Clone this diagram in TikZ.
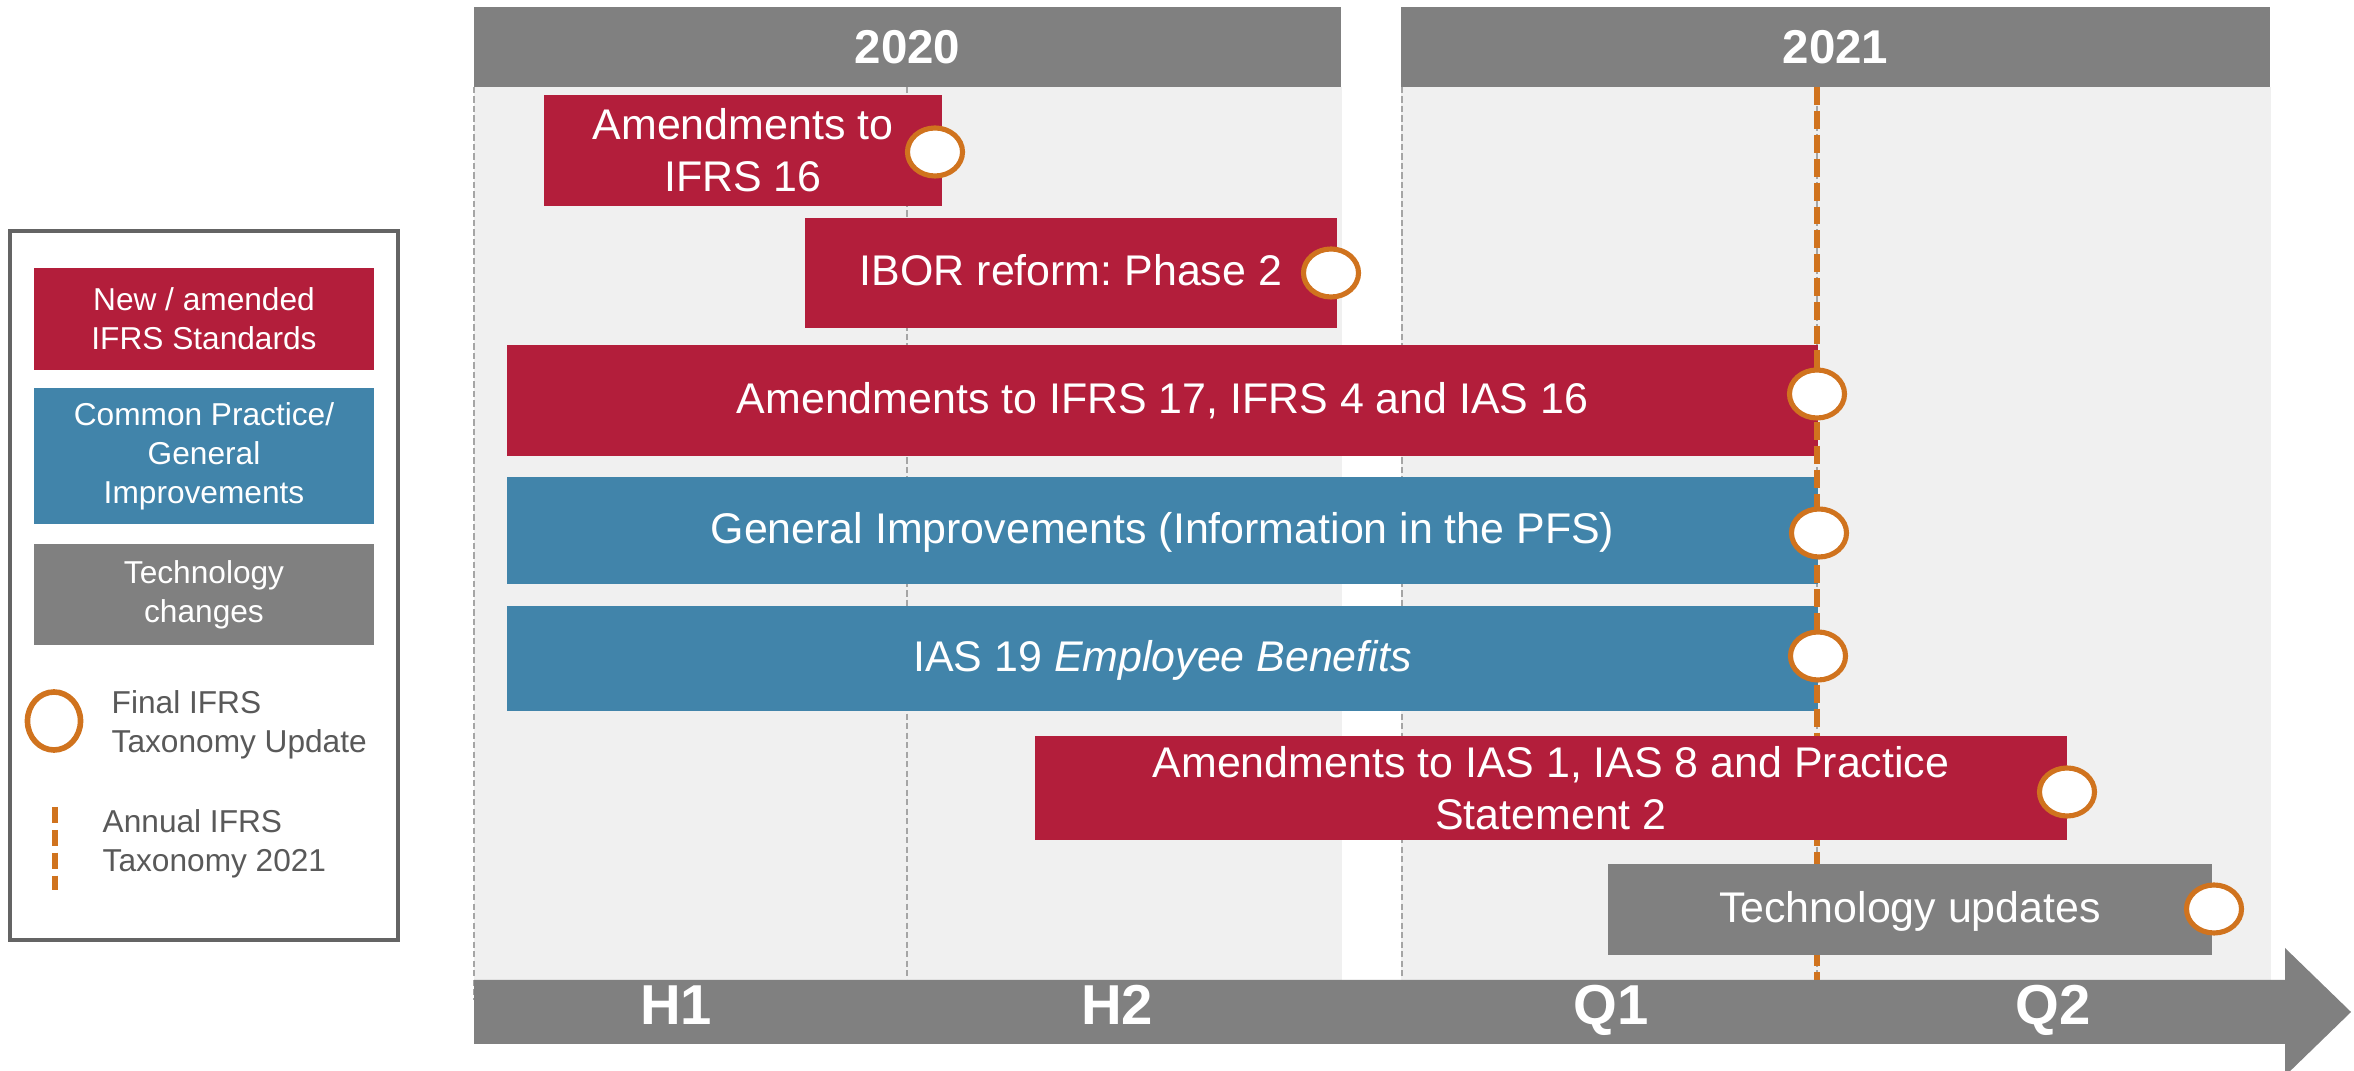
\documentclass[tikz,border=0pt]{standalone}
\usepackage{fontspec}
\setmainfont{Liberation Sans}
\usetikzlibrary{shapes.geometric}
\frenchspacing

\definecolor{stdred}{RGB}{179,30,59}
\definecolor{practiceblue}{RGB}{65,132,170}
\definecolor{techgray}{RGB}{128,128,128}
\definecolor{panelbg}{RGB}{240,240,240}
\definecolor{taxorange}{RGB}{208,115,30}
\definecolor{divgray}{RGB}{165,165,165}
\definecolor{frameclr}{RGB}{100,100,100}
\definecolor{legtext}{RGB}{89,89,89}

\begin{document}
\begin{tikzpicture}[x=0.01cm,y=-0.01cm,
  bar/.style={inner sep=0pt, text=white, align=center,
    font=\fontsize{12.2}{14.8}\selectfont},
  oneline/.style={text height=0.716em, text depth=0pt},
  ring/.style={ellipse, draw=taxorange, fill=white, line width=1.45pt,
    minimum width=0.55cm, minimum height=0.48cm, inner sep=0pt},
  yearhead/.style={fill=techgray, text=white, inner sep=0pt,
    minimum height=0.80cm, font=\fontsize{13.5}{16}\selectfont\bfseries},
  axislabel/.style={text=white, inner sep=0pt, text height=0.716em, text depth=0pt,
    font=\fontsize{16}{19}\selectfont\bfseries},
  divider/.style={draw=divgray, line width=0.45pt, dash pattern=on 1.8pt off 0.9pt},
  taxline/.style={draw=taxorange, line width=1.45pt, dash pattern=on 5.1pt off 1.7pt},
  legkey/.style={inner sep=0pt, text=white, align=center,
    minimum width=3.40cm, font=\fontsize{9}{11.1}\selectfont},
  legnote/.style={inner sep=0pt, text=legtext, align=left, anchor=west,
    font=\fontsize{9}{11}\selectfont}
]
\useasboundingbox (0,0) rectangle (2354,1071);
\clip (0,0) rectangle (2354,1071);

% background panels for the two years
\fill[panelbg] (474,87) rectangle (1342,980);
\fill[panelbg] (1401,87) rectangle (2271,980);

% period dividers
\coordinate (d1a) at (474,87);  \coordinate (d1b) at (474,1000);
\coordinate (d2a) at (907,87);  \coordinate (d2b) at (907,980);
\coordinate (d3a) at (1402,87); \coordinate (d3b) at (1402,980);
\coordinate (d4a) at (1817,87); \coordinate (d4b) at (1817,980);
\draw[divider] (d1a) -- (d1b);
\draw[divider] (d2a) -- (d2b);
\draw[divider] (d3a) -- (d3b);
\draw[divider] (d4a) -- (d4b);

% year headers
\node[yearhead, minimum width=8.67cm] (y2020) at (907.5,47) {2020};
\node[yearhead, minimum width=8.69cm] (y2021) at (1835.5,47) {2021};

% project bars ending before the annual taxonomy
\node[bar, fill=stdred, minimum width=3.98cm, minimum height=1.11cm]
  (b1) at (743,150.5) {Amendments to\\IFRS 16};
\node[bar, oneline, fill=stdred, minimum width=5.32cm, minimum height=1.10cm]
  (b2) at (1071,273) {IBOR reform: Phase 2};
\node[bar, oneline, fill=stdred, minimum width=13.11cm, minimum height=1.11cm]
  (b3) at (1162.5,400.5) {Amendments to IFRS 17, IFRS 4 and IAS 16};
\node[bar, oneline, fill=practiceblue, minimum width=13.11cm, minimum height=1.07cm]
  (b4) at (1162.5,530.5) {General Improvements (Information in the PFS)};
\node[bar, oneline, fill=practiceblue, minimum width=13.11cm, minimum height=1.05cm]
  (b5) at (1162.5,658.5) {IAS 19 \textit{Employee Benefits}};

% annual taxonomy marker
\coordinate (t0) at (1817,87);
\coordinate (t1) at (1817,980);
\draw[taxline] (t0) -- (t1);

% project bars running past the annual taxonomy
\node[bar, fill=stdred, minimum width=10.32cm, minimum height=1.04cm]
  (b6) at (1551,788) {Amendments to IAS 1, IAS 8 and Practice\\Statement 2};
\node[bar, oneline, fill=techgray, minimum width=6.04cm, minimum height=0.91cm]
  (b7) at (1910,909.5) {Technology updates};

% final taxonomy update markers
\node[ring] (r1) at (935,152) {};
\node[ring] (r2) at (1331,273) {};
\node[ring] (r3) at (1817,394) {};
\node[ring] (r4) at (1819,533) {};
\node[ring] (r5) at (1818,656) {};
\node[ring] (r6) at (2067,792) {};
\node[ring] (r7) at (2214,909) {};

% time axis arrow
\fill[techgray] (474,980) -- (2285,980) -- (2285,948) -- (2351,1012)
  -- (2285,1076) -- (2285,1044) -- (474,1044) -- cycle;
\node[axislabel] (h1) at (676,1012) {H1};
\node[axislabel] (h2) at (1117,1012) {H2};
\node[axislabel] (q1) at (1611,1012) {Q1};
\node[axislabel] (q2) at (2053,1012) {Q2};

% legend
\node[draw=frameclr, fill=white, line width=1.14pt, inner sep=0pt,
  minimum width=3.88cm, minimum height=7.09cm] (legend) at (204,585.5) {};
\node[legkey, fill=stdred, minimum height=1.02cm] (k1) at (204,319)
  {New / amended\\IFRS Standards};
\node[legkey, fill=practiceblue, minimum height=1.36cm] (k2) at (204,456)
  {Common Practice/\\General\\Improvements};
\node[legkey, fill=techgray, minimum height=1.01cm] (k3) at (204,594.5)
  {Technology\\changes};
\node[ellipse, draw=taxorange, fill=white, line width=1.6pt, inner sep=0pt,
  minimum width=0.53cm, minimum height=0.58cm] (kr) at (54,721) {};
\node[legnote] (kt1) at (111,725) {Final IFRS\\Taxonomy Update};
\coordinate (kd0) at (55,807);
\coordinate (kd1) at (55,890);
\draw[draw=taxorange, line width=1.7pt, dash pattern=on 4.5pt off 2pt] (kd0) -- (kd1);
\node[legnote] (kt2) at (102,844) {Annual IFRS\\Taxonomy 2021};
\end{tikzpicture}
\end{document}
